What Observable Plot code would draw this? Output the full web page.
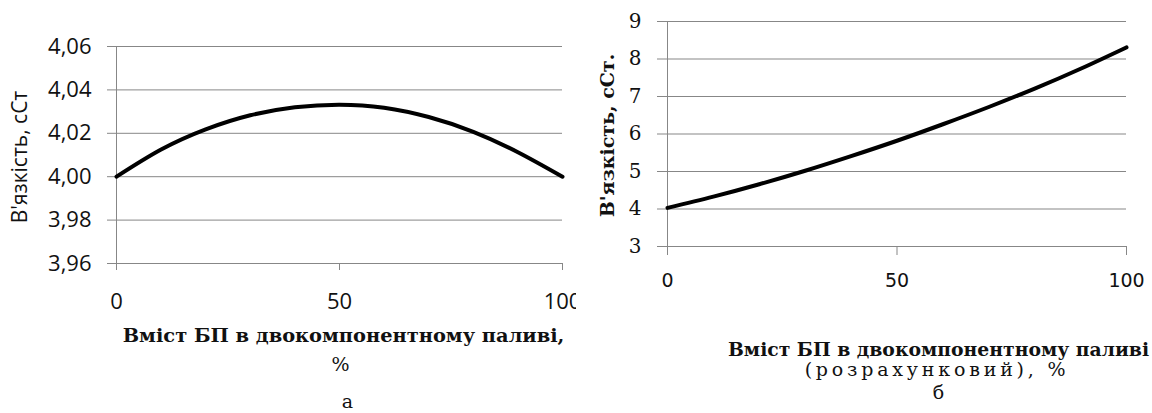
<!DOCTYPE html>
<html><head><meta charset="utf-8">
<script src="https://cdn.jsdelivr.net/npm/d3@7"></script>
<script src="https://cdn.jsdelivr.net/npm/@observablehq/plot@0.6"></script>
<style>
body{margin:0;background:#fff;}
#wrap{display:flex;width:1152px;height:413px;background:#fff;}
</style></head><body><div id="wrap"></div>
<script>
// Data
const share = [0, 10, 20, 30, 40, 50, 60, 70, 80, 90, 100];
const viscA = [4.0000, 4.0125, 4.0218, 4.0283, 4.0320, 4.0332, 4.0318, 4.0275, 4.0207, 4.0113, 4.0000];
const viscB = [4.03, 4.33, 4.66, 5.02, 5.41, 5.82, 6.26, 6.72, 7.21, 7.74, 8.31];
const yTicksA = [3.96, 3.98, 4.00, 4.02, 4.04, 4.06];
const yTickLabelsA = ["3,96", "3,98", "4,00", "4,02", "4,04", "4,06"];
const yTicksB = [3, 4, 5, 6, 7, 8, 9];
const xTicks = [0, 50, 100];
const yTitleA = "В'язкість, сСт";
const yTitleB = "В'язкість, сСт.";
const xTitleA = ["Вміст БП в двокомпонентному паливі,", "%"];
const xTitleB = ["Вміст БП в двокомпонентному паливі", "(розрахунковий), %"];
const panelA = "а";
const panelB = "б";

const rowsA = share.map((x, i) => ({x, y: viscA[i]}));
const rowsB = share.map((x, i) => ({x, y: viscB[i]}));
const GRID = "#878787";
const INK = "#111";
const SERIF = "DejaVu Serif";

const plotA = Plot.plot({
  width: 576, height: 413,
  marginLeft: 116, marginRight: 14, marginTop: 46, marginBottom: 150,
  x: {domain: [0, 100]},
  y: {domain: [3.96, 4.06]},
  style: {background: "#fff", color: INK, overflow: "visible", fontFamily: "Open Sans"},
  marks: [
    Plot.gridY(yTicksA, {stroke: GRID, strokeOpacity: 1, strokeWidth: 1}),
    Plot.ruleX([0], {stroke: GRID, strokeWidth: 1}),
    Plot.axisY(yTicksA, {tickSize: 9, tickPadding: 16, stroke: GRID, fill: INK,
      tickFormat: d => yTickLabelsA[yTicksA.indexOf(d)], fontSize: 22, fontFamily: "Open Sans", label: null}),
    Plot.axisX(xTicks, {tickSize: 7, tickPadding: 23, stroke: GRID, fill: INK,
      fontSize: 22, fontFamily: "Open Sans", label: null}),
    Plot.line(rowsA, {x: "x", y: "y", stroke: "#000", strokeWidth: 4, curve: "natural"}),
    Plot.text([yTitleA], {frameAnchor: "left", textAnchor: "middle", lineAnchor: "middle", dx: -96, dy: 2, rotate: -90, fontSize: 21, fill: INK}),
    Plot.text([xTitleA[0]], {frameAnchor: "bottom", lineAnchor: "middle", dx: 4, dy: 72, fontSize: 19.4, fontWeight: "bold", fontFamily: SERIF, fill: INK}),
    Plot.text([xTitleA[1]], {frameAnchor: "bottom", lineAnchor: "middle", dx: 1, dy: 101, fontSize: 19, fontFamily: SERIF, fill: INK}),
    Plot.text([panelA], {frameAnchor: "bottom", lineAnchor: "middle", dx: 8, dy: 138, fontSize: 19, fontFamily: SERIF, fill: INK})
  ]
});

const plotB = Plot.plot({
  width: 576, height: 413,
  marginLeft: 91, marginRight: 26, marginTop: 21, marginBottom: 167,
  x: {domain: [0, 100]},
  y: {domain: [3, 9]},
  style: {background: "#fff", color: INK, overflow: "visible", fontFamily: SERIF},
  marks: [
    Plot.gridY(yTicksB, {stroke: GRID, strokeOpacity: 1, strokeWidth: 1}),
    Plot.ruleX([0], {stroke: GRID, strokeWidth: 1}),
    Plot.axisY(yTicksB, {tickSize: 10, tickPadding: 16, stroke: GRID, fill: INK,
      fontSize: 20, fontFamily: SERIF, label: null}),
    Plot.axisX(xTicks, {tickSize: 9, tickPadding: 18, stroke: GRID, fill: INK,
      fontSize: 19, fontFamily: "DejaVu Sans", label: null}),
    Plot.line(rowsB, {x: "x", y: "y", stroke: "#000", strokeWidth: 4, curve: "natural"}),
    Plot.text([yTitleB], {frameAnchor: "left", textAnchor: "middle", lineAnchor: "middle", dx: -59.5, dy: 1.5, rotate: -90, fontSize: 19, fontWeight: "bold", fontFamily: SERIF, fill: INK}),
    Plot.text([xTitleB[0]], {frameAnchor: "bottom", lineAnchor: "middle", dx: 41.5, dy: 103, fontSize: 18.8, fontWeight: "bold", fontFamily: SERIF, fill: INK}),
    Plot.text([xTitleB[1]], {frameAnchor: "bottom", lineAnchor: "middle", dx: 40, dy: 123, fontSize: 19, fontFamily: SERIF, fill: INK}),
    Plot.text([panelB], {frameAnchor: "bottom", lineAnchor: "middle", dx: 41.5, dy: 146, fontSize: 19, fontFamily: SERIF, fill: INK})
  ]
});

// wider tracking on the second line of the right-hand axis title, as in the reference
d3.select(plotB).selectAll("text")
  .filter(function () { return this.textContent === xTitleB[1]; })
  .attr("letter-spacing", 3.8);

document.getElementById("wrap").append(plotA, plotB);
</script>
</body></html>
